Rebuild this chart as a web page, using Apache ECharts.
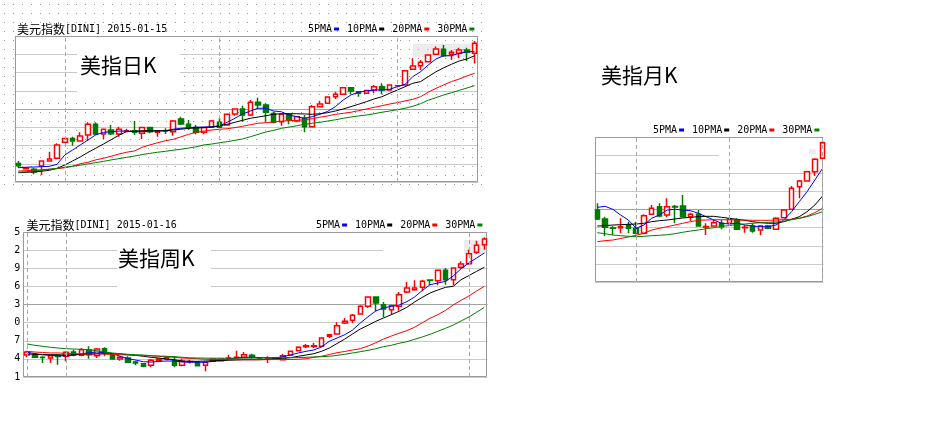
<!DOCTYPE html>
<html><head><meta charset="utf-8">
<script src="https://cdn.jsdelivr.net/npm/echarts@6.0.0/dist/echarts.min.js"></script>
<style>html,body{margin:0;padding:0;background:#fff}#c{width:948px;height:439px}</style>
</head><body><div id="c"></div>
<script>
// ---------------- DATA ----------------
// candle format: [open, close, low, high]
const dayK = [
[86.02,85.89,85.77,86.15],[85.73,85.77,85.70,85.82],[85.70,85.55,85.42,85.78],[85.88,86.15,85.38,86.18],[86.15,86.26,86.12,86.66],
[86.30,87.03,86.25,87.12],[87.18,87.39,87.15,87.42],[87.39,87.25,86.99,87.48],[87.25,87.52,87.21,87.72],[87.58,88.16,87.25,88.27],
[88.16,87.63,87.58,88.27],[87.63,87.89,87.36,87.90],[87.85,87.65,87.58,88.12],[87.63,87.89,87.48,88.03],[87.80,87.81,87.72,87.92],
[87.81,87.72,87.58,88.34],[87.67,87.98,87.36,88.03],[87.98,87.76,87.67,88.03],[87.72,87.79,87.48,87.85],[87.80,87.79,87.63,87.95],
[87.76,88.34,87.54,88.40],[88.45,88.18,88.12,88.58],[88.16,87.98,87.85,88.40],[87.98,87.72,87.61,88.12],[87.72,87.98,87.61,87.98],
[88.00,88.34,88.00,88.40],[88.27,88.00,87.94,88.49],[88.12,88.71,88.10,88.73],[88.73,89.00,88.63,89.02],[89.00,88.67,88.30,89.18],
[88.67,89.37,88.62,89.49],[89.37,89.22,89.00,89.62],[89.22,88.82,88.27,89.31],[88.76,88.27,88.21,88.85],[88.30,88.71,88.08,88.71],
[88.71,88.40,88.16,88.76],[88.34,88.58,88.27,88.62],[88.49,88.03,87.72,88.67],[88.03,89.13,87.98,89.22],[89.13,89.27,89.09,89.45],
[89.31,89.66,89.28,89.68],[89.67,89.81,89.55,89.95],[89.81,90.17,89.78,90.19],[90.17,89.99,89.81,90.17],[89.95,89.86,89.67,89.99],
[89.86,90.02,89.83,90.05],[90.04,90.22,89.86,90.32],[90.22,90.04,89.81,90.41],[90.04,90.32,90.00,90.34],[90.27,90.28,90.22,90.32],
[90.32,91.10,90.30,91.12],[91.18,91.36,91.14,91.78],[91.37,91.56,91.14,91.68],[91.59,91.96,91.56,91.98],[92.00,92.29,91.96,92.42],
[92.27,91.92,91.86,92.51],[92.00,92.11,91.68,92.23],[92.05,92.23,91.78,92.36],[92.23,92.11,91.63,92.36],[92.05,92.60,91.50,92.73]
];
const dayMA5 = [85.78,85.81,85.82,85.84,85.86,85.97,86.48,86.75,87.03,87.30,87.58,87.72,87.76,87.79,87.79,87.76,87.76,87.79,87.79,87.81,
87.89,87.94,87.98,88.00,88.01,88.03,88.07,88.27,88.49,88.73,88.89,89.04,89.04,88.89,88.85,88.67,88.58,88.49,88.58,88.71,
88.87,89.13,89.49,89.77,89.92,89.99,90.04,90.04,90.08,90.22,90.35,90.77,91.04,91.41,91.74,91.92,91.92,92.05,92.14,92.14];
const dayMA10 = [85.51,85.53,85.55,85.59,85.64,85.75,85.93,86.15,86.37,86.62,86.85,87.08,87.32,87.56,87.76,87.79,87.81,87.81,87.81,87.81,
87.85,87.89,87.94,87.96,87.98,88.01,88.08,88.16,88.27,88.38,88.49,88.56,88.63,88.71,88.74,88.74,88.74,88.73,88.71,88.74,
88.80,88.89,89.00,89.13,89.26,89.40,89.55,89.67,89.86,90.04,90.22,90.41,90.50,90.77,91.04,91.26,91.45,91.63,91.74,91.92];
const dayMA20 = [85.60,85.62,85.64,85.67,85.70,85.73,85.78,85.86,86.00,86.08,86.21,86.30,86.41,86.53,86.63,86.70,86.90,87.03,87.15,87.26,
87.34,87.47,87.61,87.72,87.79,87.85,87.89,87.92,87.98,88.05,88.14,88.22,88.25,88.29,88.33,88.36,88.38,88.41,88.47,88.55,
88.62,88.71,88.76,88.82,88.91,89.00,89.09,89.18,89.27,89.35,89.44,89.53,89.67,89.92,90.13,90.32,90.50,90.64,90.81,90.96];
const dayMA30 = [85.53,85.56,85.60,85.64,85.70,85.75,85.81,85.86,85.92,85.99,86.06,86.13,86.21,86.28,86.35,86.42,86.50,86.57,86.63,86.68,
86.74,86.79,86.86,86.93,87.03,87.08,87.15,87.21,87.28,87.36,87.48,87.61,87.74,87.83,87.94,88.01,88.08,88.16,88.22,88.27,
88.34,88.41,88.49,88.56,88.62,88.67,88.74,88.82,88.89,88.96,89.04,89.15,89.29,89.48,89.62,89.77,89.89,90.02,90.15,90.28];

const weekK = [
[78.89,79.27,78.60,79.44],[78.93,78.60,78.51,79.15],[78.62,78.58,77.88,78.73],[78.51,78.80,77.88,78.93],[78.75,78.71,77.66,78.93],
[78.73,79.23,78.09,79.36],[79.27,78.93,78.73,79.56],[78.85,79.56,78.73,79.78],[79.53,78.93,78.42,80.00],[78.80,79.65,78.51,79.78],
[79.69,79.10,78.73,79.87],[78.85,78.38,78.30,78.93],[78.38,78.60,78.17,78.73],[78.51,77.97,77.88,78.73],[78.00,77.88,77.60,78.17],
[77.79,77.46,77.33,77.88],[77.58,78.22,77.33,78.38],[78.22,78.38,78.15,78.45],[78.38,78.60,78.22,78.73],[78.17,77.58,77.33,78.73],
[77.58,78.09,77.46,78.42],[78.05,78.08,77.80,78.30],[77.97,77.53,77.46,78.09],[77.58,77.97,76.82,78.09],[78.09,78.38,78.05,78.45],
[78.17,78.38,78.10,78.42],[78.48,78.51,78.30,78.93],[78.57,78.60,78.42,79.44],[78.60,78.93,78.51,79.27],[78.85,78.60,78.45,79.05],
[78.52,78.50,78.40,78.65],[78.36,78.40,77.88,78.73],[78.49,78.53,78.38,78.65],[78.30,78.80,78.30,79.02],[78.85,79.36,78.80,79.40],
[79.44,79.87,79.36,80.00],[79.95,80.07,79.78,80.29],[79.97,80.07,79.78,80.41],[80.00,81.05,79.95,81.10],[81.26,81.47,81.05,81.56],
[81.56,82.61,81.47,83.04],[82.95,83.17,82.83,83.59],[83.30,83.93,82.95,84.09],[84.09,85.07,84.01,85.20],[85.07,86.25,84.86,86.34],
[86.25,85.49,84.44,86.34],[85.27,84.73,83.68,85.62],[84.64,85.15,84.01,85.27],[85.07,86.54,84.51,86.89],[86.89,87.39,86.76,88.16],
[87.18,87.39,87.05,88.37],[87.48,88.24,86.98,88.45],[88.40,88.34,87.74,88.45],[88.32,89.64,87.74,89.72],[89.64,88.45,87.81,89.93],
[88.45,89.93,87.74,90.02],[90.02,90.44,89.84,90.78],[90.48,91.75,90.35,92.25],[91.92,92.81,91.71,93.40],[92.89,93.61,92.25,93.83]
];
const weekMA5 = [79.23,79.08,78.93,78.85,78.80,78.80,78.89,79.02,79.18,79.27,79.18,79.08,78.73,78.42,78.26,78.04,78.00,78.07,78.13,78.13,
78.00,77.97,77.97,77.97,78.09,78.22,78.38,78.51,78.60,78.60,78.57,78.54,78.51,78.68,78.89,79.15,79.36,79.53,79.91,80.63,
81.05,81.47,82.06,82.95,83.75,84.48,84.86,85.07,85.24,85.66,86.25,87.08,87.81,88.03,88.24,88.92,89.84,90.57,91.20,91.84];
const weekMA10 = [79.02,78.98,78.93,78.93,78.93,78.89,78.89,78.98,79.02,79.06,79.06,79.02,79.02,78.93,78.85,78.73,78.60,78.51,78.38,78.30,
78.13,78.09,78.09,78.13,78.17,78.17,78.22,78.26,78.30,78.30,78.30,78.35,78.42,78.47,78.55,78.73,78.89,79.06,79.36,79.78,
80.35,80.92,81.56,82.19,82.66,83.17,83.59,84.01,84.44,84.94,85.62,86.21,86.76,87.14,87.48,87.61,88.45,88.96,89.51,90.02];
const weekMA20 = [79.36,79.27,79.21,79.15,79.15,79.11,79.06,79.02,79.02,79.02,79.02,78.98,78.93,78.89,78.85,78.80,78.80,78.73,78.64,78.60,
78.51,78.47,78.42,78.35,78.33,78.31,78.30,78.29,78.28,78.28,78.29,78.30,78.31,78.31,78.32,78.35,78.42,78.60,78.73,78.96,
79.18,79.34,79.53,79.69,80.03,80.45,80.92,81.30,81.65,81.98,82.41,82.99,83.55,84.01,84.56,85.24,85.83,86.38,87.01,87.61];
const weekMA30 = [80.29,80.12,80.00,79.87,79.78,79.69,79.65,79.62,79.56,79.44,79.27,79.15,79.06,78.98,78.93,78.89,78.80,78.76,78.73,78.68,
78.60,78.53,78.51,78.50,78.49,78.49,78.48,78.48,78.49,78.50,78.51,78.52,78.53,78.54,78.55,78.57,78.60,78.64,78.68,78.73,
78.85,78.98,79.15,79.31,79.49,79.69,79.95,80.12,80.38,80.58,80.88,81.18,81.52,81.90,82.28,82.70,83.21,83.71,84.31,84.94];
// visible (clipped) weekly tick label digits, bottom to top
const weekTickDigits = ['1','4','7','0','3','6','9','2','5'];

const monthK = [
[82.43,81.19,81.05,83.36],[81.19,80.04,78.84,81.51],[79.95,79.91,78.98,80.22],[79.99,80.13,79.22,81.29],[80.36,79.91,79.22,80.82],
[79.91,79.22,79.08,80.82],[79.22,81.64,79.08,81.84],[81.84,82.67,81.74,83.12],[82.89,81.60,81.42,83.36],[81.74,82.89,81.42,84.04],
[82.92,82.86,80.60,83.12],[82.98,81.51,81.42,84.50],[81.51,81.84,80.92,82.06],[81.84,80.22,80.13,82.43],[80.10,80.16,78.98,80.60],
[80.22,80.68,80.13,81.05],[80.60,80.13,79.77,81.05],[80.60,81.15,80.22,81.29],[81.05,79.77,79.67,81.29],[80.00,80.06,79.30,80.36],
[80.22,79.53,79.30,80.60],[79.67,80.22,78.98,80.36],[80.22,79.91,79.77,80.36],[79.77,81.29,79.67,81.42],[81.37,82.43,81.29,82.53],
[82.53,85.42,82.43,85.74],[85.64,86.43,84.04,86.57],[86.43,87.71,86.33,87.85],[87.71,89.42,87.12,89.56],[89.56,91.71,89.42,91.99]
];
const monthMA5 = [82.80,82.94,82.53,81.74,81.05,79.91,80.36,81.29,81.74,82.43,82.53,82.43,82.33,81.98,81.51,
81.05,80.60,80.50,80.60,80.36,80.22,80.13,80.13,80.36,81.05,82.20,83.58,84.96,86.57,88.18];
const monthMA10 = [80.22,80.27,80.36,80.40,80.46,80.50,80.60,80.82,80.96,81.05,81.19,81.33,81.42,81.51,81.56,
81.56,81.42,81.29,81.15,81.01,80.82,80.68,80.60,80.60,80.82,81.15,81.51,82.20,83.12,84.36];
const monthMA20 = [78.06,78.20,78.29,78.50,78.71,78.94,79.22,79.67,79.91,80.13,80.36,80.60,80.82,81.01,81.05,
81.09,81.09,81.09,81.05,81.05,81.01,81.01,81.01,81.05,81.09,81.15,81.29,81.60,82.06,82.67];
const monthMA30 = [79.30,79.16,78.98,78.89,78.80,78.75,78.80,78.89,78.94,79.02,79.16,79.36,79.53,79.67,79.85,
79.99,80.18,80.27,80.46,80.50,80.60,80.68,80.73,80.78,80.87,81.09,81.29,81.51,81.84,82.20];

const dayCats = dayK.map((d, i) => 'd' + (i + 1));
const weekCats = weekK.map((d, i) => 'w' + (i + 1));
const monthCats = monthK.map((d, i) => 'm' + (i + 1));

const dayTitle = ['美元指数', '[DINI] 2015-01-15'];
const weekTitle = ['美元指数', '[DINI] 2015-01-16'];
const maNames = ['5PMA', '10PMA', '20PMA', '30PMA'];
const bigLabels = ['美指日K', '美指周K', '美指月K'];

// ---------------- STYLE ----------------
const C_UP = '#ff0000', C_DN = '#007a00';
const MA_COLORS = ['#0000ff', '#000000', '#ff0000', '#008000'];
const GL = '#cacaca', GD = '#a0a0a0';
const gridColors = [GL, GL, GL, GL, GD, GL, GL, GL, GL];
const MONO = 'DejaVu Sans Mono', CJK = 'Noto Sans CJK SC';

function dotPattern() {
  const c = document.createElement('canvas'); c.width = 9; c.height = 9;
  const g = c.getContext('2d'); g.fillStyle = '#fff'; g.fillRect(0, 0, 9, 9);
  g.fillStyle = '#9a9a9a'; g.fillRect(4, 4, 1, 1);
  return { image: c, repeat: 'repeat' };
}
const DOT = dotPattern();

function candle(name, data, xi, yi, vlines) {
  return {
    type: 'candlestick', name, data, xAxisIndex: xi, yAxisIndex: yi, barWidth: 5, z: 2, silent: true,
    itemStyle: { color: '#ffffff', color0: C_DN, borderColor: C_UP, borderColor0: C_DN, borderWidth: 1.5 },
    markLine: { silent: true, symbol: ['none', 'none'], label: { show: false }, animation: false,
      lineStyle: { color: '#aaaaaa', type: [4, 3], width: 1 }, data: vlines.map(v => ({ xAxis: v })) }
  };
}
function maLine(idx, data, xi, yi) {
  return { type: 'line', name: maNames[idx], data, xAxisIndex: xi, yAxisIndex: yi, symbol: 'none', showSymbol: false,
    z: 3, silent: true, lineStyle: { width: 1, color: MA_COLORS[idx] }, itemStyle: { color: MA_COLORS[idx] } };
}
function rect(x, y, w, h, fill, z, opacity) {
  return { type: 'rect', z, silent: true, shape: { x, y, width: w, height: h }, style: { fill, opacity: opacity == null ? 1 : opacity } };
}
function frame(x, y, w, h) {
  return { type: 'rect', z: 1, silent: true, shape: { x, y, width: w, height: h }, style: { fill: 'none', stroke: '#999', lineWidth: 1 } };
}
function titleText(x, y, parts) {
  return { type: 'text', z: 5, silent: true, style: {
    x, y, text: '{c|' + parts[0] + '}{a|' + parts[1] + '}', verticalAlign: 'middle', textVerticalAlign: 'middle',
    fontSize: 10, fontFamily: MONO, fill: '#000',
    rich: { c: { fontSize: 12, fontFamily: CJK, fill: '#000' }, a: { fontSize: 10, fontFamily: MONO, fill: '#000' } } } };
}
function legendText(x, y) {
  const keys = ['b', 'k', 'r', 'n'];
  let t = '';
  maNames.forEach((n, i) => { t += n + '{s| }{' + keys[i] + '| }' + (i < 3 ? '{g| }' : ''); });
  const rich = { s: { width: 2 }, g: { width: 8 } };
  keys.forEach((k, i) => { rich[k] = { width: 5, height: 3, backgroundColor: MA_COLORS[i], verticalAlign: 'middle' }; });
  return { type: 'text', z: 5, silent: true, style: { x, y, text: t, verticalAlign: 'middle', textVerticalAlign: 'middle',
    fontSize: 10, fontFamily: MONO, fill: '#000', rich } };
}
function bigText(x, y, s) {
  return { type: 'text', z: 5, silent: true, style: { x, y, text: s, fontSize: 21, fontFamily: CJK, fill: '#000',
    verticalAlign: 'middle', textVerticalAlign: 'middle' } };
}
const hiddenX = (gi, cats) => ({ type: 'category', gridIndex: gi, data: cats, show: false, boundaryGap: true });
const splitY = { show: true, lineStyle: { color: gridColors, width: 1 } };

const chart = echarts.init(document.getElementById('c'), null, { renderer: 'canvas', width: 948, height: 439 });
chart.setOption({
  animation: false,
  backgroundColor: '#ffffff',
  grid: [
    { left: 14.5, top: 36, width: 464, height: 146 },
    { left: 23.2, top: 232, width: 465, height: 145 },
    { left: 593.4, top: 137, width: 233.1, height: 145 }
  ],
  xAxis: [hiddenX(0, dayCats), hiddenX(1, weekCats), hiddenX(2, monthCats)],
  yAxis: [
    { type: 'value', gridIndex: 0, min: 85, max: 93, interval: 1, axisLine: { show: false }, axisTick: { show: false }, axisLabel: { show: false }, splitLine: splitY },
    { type: 'value', gridIndex: 1, min: 76.1, max: 94.5, show: false, splitLine: { show: false } },
    { type: 'value', gridIndex: 2, min: 72.5, max: 92.5, interval: 2.5, axisLine: { show: false }, axisTick: { show: false }, axisLabel: { show: false }, splitLine: splitY },
    { type: 'value', gridIndex: 1, position: 'left', min: 0, max: 8, interval: 1, axisLine: { show: false }, axisTick: { show: false },
      axisLabel: { show: true, margin: 3, fontSize: 10, fontFamily: MONO, color: '#000', showMinLabel: true, showMaxLabel: true,
        formatter: (v) => weekTickDigits[Math.round(v)] }, splitLine: splitY }
  ],
  series: [
    candle('日K', dayK, 0, 0, [6, 26, 49]),
    maLine(0, dayMA5, 0, 0), maLine(1, dayMA10, 0, 0), maLine(2, dayMA20, 0, 0), maLine(3, dayMA30, 0, 0),
    candle('周K', weekK, 1, 1, [0, 5, 57]),
    maLine(0, weekMA5, 1, 1), maLine(1, weekMA10, 1, 1), maLine(2, weekMA20, 1, 1), maLine(3, weekMA30, 1, 1),
    candle('月K', monthK, 2, 2, [5, 17, 29]),
    maLine(0, monthMA5, 2, 2), maLine(1, monthMA10, 2, 2), maLine(2, monthMA20, 2, 2), maLine(3, monthMA30, 2, 2)
  ],
  graphic: { elements: [
    // dotted background of the daily panel (with the pasted label's blank hole)
    rect(0, 0, 490, 37, DOT, -10), rect(0, 100, 490, 88, DOT, -10),
    rect(0, 37, 15, 63, DOT, -10), rect(180, 37, 310, 63, DOT, -10),
    // occluding pieces of the pasted screenshots
    rect(77, 38, 103, 60, '#ffffff', 1),
    rect(378, 48, 99, 32, DOT, 1),
    rect(117, 240, 94, 58, '#ffffff', 1),
    rect(383, 246, 103, 8, '#ffffff', 1),
    rect(487.5, 228, 6, 152, '#ffffff', 1),
    rect(719, 150, 103, 10, '#ffffff', 1),
    rect(823.6, 130, 10, 160, '#ffffff', 1),
    rect(586, 135, 8.6, 150, '#ffffff', 1),
    // faint grey smudges left by the screenshots
    rect(413, 44, 58, 13, '#cfcfcf', 1, 0.4),
    rect(464, 240, 22, 14, '#cfcfcf', 1, 0.4),
    rect(809, 149, 7, 5, '#cfcfcf', 1, 0.4),
    // frames
    frame(15.5, 36.5, 462, 145), frame(23.5, 232.5, 463, 144), frame(595.5, 137.5, 227, 144),
    // texts
    titleText(17, 29, dayTitle), legendText(308, 29),
    titleText(26.5, 225, weekTitle), legendText(316, 225),
    legendText(653, 130),
    bigText(80, 65, bigLabels[0]), bigText(118, 258, bigLabels[1]), bigText(601, 75, bigLabels[2])
  ] }
});
</script>
</body></html>
